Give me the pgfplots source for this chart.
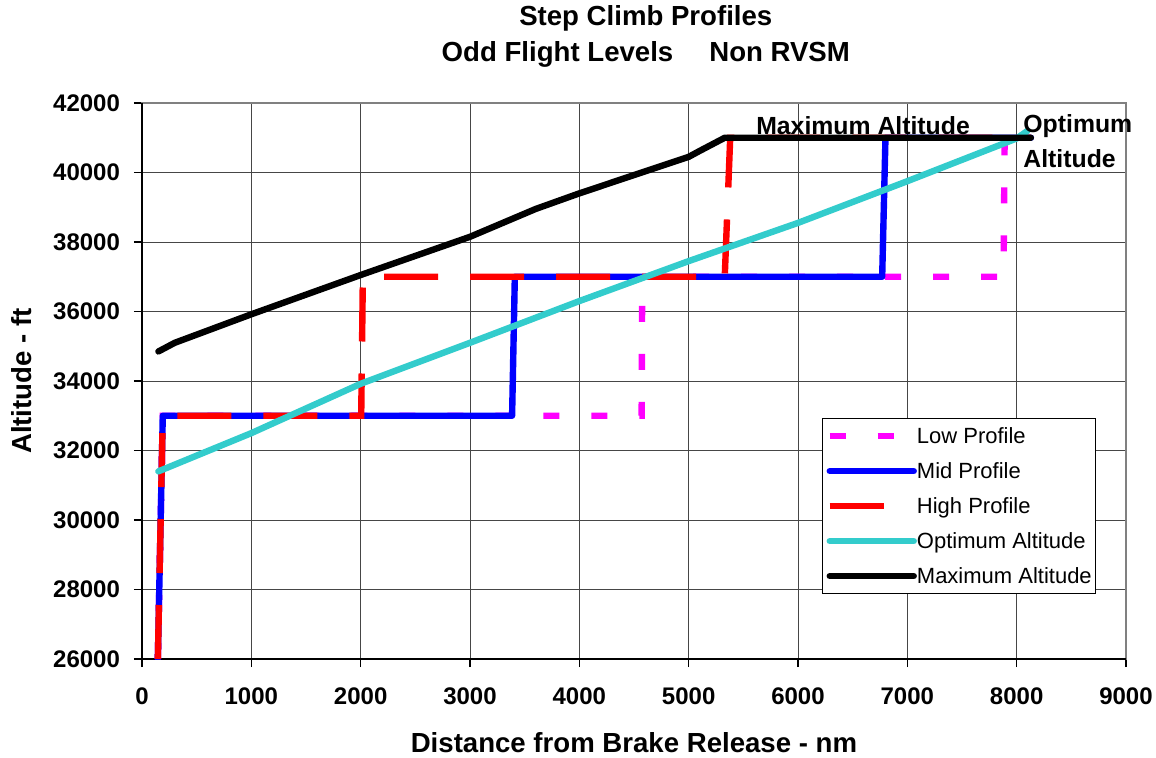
\documentclass[border=0pt]{standalone}
\usepackage{fontspec}
\setmainfont{Liberation Sans}
\usepackage{pgfplots}
\pgfplotsset{compat=1.18}
\definecolor{optcyan}{RGB}{51,204,204}
\definecolor{lowmag}{RGB}{255,0,255}
\definecolor{gridc}{RGB}{70,70,70}
\begin{document}
\begin{tikzpicture}
\path[use as bounding box] (-71pt,-49pt) rectangle (507pt,329.5pt);
\begin{axis}[
  at={(0,0)}, anchor=south west,
  scale only axis, width=492pt, height=278pt,
  xmin=0, xmax=9000, ymin=26000, ymax=42000,
  xtick={0,1000,...,9000}, ytick={26000,28000,...,42000},
  scaled x ticks=false, scaled y ticks=false,
  /pgf/number format/1000 sep={},
  /pgf/number format/assume math mode=true,
  ticklabel style={font=\fontsize{12}{14}\selectfont\bfseries},
  xticklabel style={yshift=-7pt},
  yticklabel style={xshift=-3.5pt},
  tick align=outside, xtick pos=bottom, ytick pos=left,
  major tick length=4pt, tick style={black, line width=0.6pt},
  grid=major, major grid style={gridc, line width=0.5pt},
  axis line style={gray, line width=1pt},
  xlabel={Distance from Brake Release - nm},
  ylabel={Altitude - ft},
  label style={font=\fontsize{13.8}{16}\selectfont\bfseries},
  xlabel style={at={(axis description cs:0.5,-0.151)}, anchor=center},
  ylabel style={at={(axis description cs:-0.122,0.5)}, anchor=center},
  clip mode=individual,
  legend cell align=left,
  legend image code/.code={\draw[#1] (0pt,0pt) -- (42pt,0pt);},
  legend style={at={(0.691,0.4335)}, anchor=north west, draw=black, line width=0.6pt,
    fill=white, inner xsep=2pt, inner ysep=0pt, row sep=0pt, column sep=0pt,
    font=\fontsize{11}{13}\selectfont,
    nodes={inner sep=0pt, text height=12.7pt, text depth=4.8pt}},
]
\draw[black, line width=1pt] (rel axis cs:0,1) -- (rel axis cs:0,0) -- (rel axis cs:1,0);
\addplot[lowmag, line width=3.2pt, line cap=butt, dash pattern=on 8pt off 16pt] coordinates {
 (145,26000) (190,33000) (4570,33000) (4575,37000) (7880,37000) (7890,41000) (8130,41000)};
\addlegendentry{Low Profile}
\addplot[blue, line width=3.2pt, line cap=round, line join=round] coordinates {
 (145,26000) (190,33000) (3385,33000) (3410,37000) (6770,37000) (6800,41000) (8130,41000)};
\addlegendentry{Mid Profile}
\addplot[red, line width=3.2pt, line cap=butt, dash pattern=on 27pt off 16pt] coordinates {
 (145,26000) (190,33000) (2005,33000) (2020,37000) (5330,37000) (5380,41000) (8130,41000)};
\addlegendentry{High Profile}
\addplot[optcyan, line width=3.2pt, line cap=round, line join=round] coordinates {
 (150,31400) (1000,32500) (2000,33920) (3000,35100) (4000,36300) (5000,37450) (6000,38550) (7000,39750) (8000,40980) (8100,41200)};
\addlegendentry{Optimum Altitude}
\addplot[black, line width=3.2pt, line cap=round, line join=round] coordinates {
 (150,34850) (300,35100) (1000,35920) (2000,37050) (3000,38150) (3600,38950) (4000,39400) (5000,40450) (5100,40620) (5330,41000) (8130,41000)};
\addlegendentry{Maximum Altitude}
\node[anchor=base, inner sep=0pt, font=\fontsize{12.4}{14}\selectfont\bfseries] at (axis cs:6595,41108) {Maximum Altitude};
\node[anchor=base west, inner sep=0pt, font=\fontsize{12.4}{14}\selectfont\bfseries] at (axis cs:8058,41145) {Optimum};
\node[anchor=base west, inner sep=0pt, font=\fontsize{12.4}{14}\selectfont\bfseries] at (axis cs:8058,40130) {Altitude};
\node[font=\fontsize{13.8}{16}\selectfont\bfseries] at (axis description cs:0.512,1.1529) {Step Climb Profiles};
\node[font=\fontsize{13.8}{16}\selectfont\bfseries] at (axis description cs:0.512,1.0881) {Odd Flight Levels\hspace{18pt}Non RVSM};
\end{axis}
\end{tikzpicture}
\end{document}
